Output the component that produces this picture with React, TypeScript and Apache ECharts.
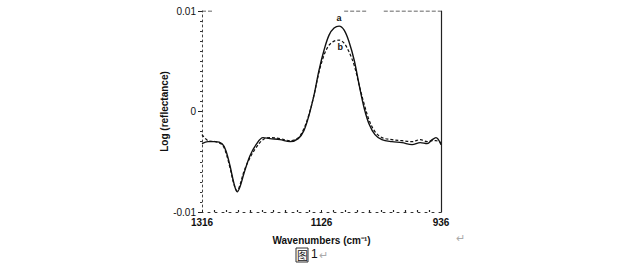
import React, { useEffect, useRef } from "react";
import * as echarts from "echarts";

const wavenumbers = [1316, 1306.5, 1295, 1284, 1278, 1271.5, 1265, 1260, 1255.6, 1249, 1239.7, 1230, 1219, 1208, 1192, 1176, 1163, 1154, 1146, 1138, 1130, 1122, 1114, 1106, 1098, 1090, 1082, 1074, 1066, 1058, 1050, 1041, 1030, 1014, 998, 982, 969, 958, 950, 944, 936];
const seriesA = [-0.0032, -0.003, -0.003, -0.0032, -0.0039, -0.0054, -0.0072, -0.008, -0.0075, -0.0061, -0.0044, -0.0033, -0.0026, -0.0027, -0.0028, -0.003, -0.0027, -0.0019, -0.0004, 0.0016, 0.0041, 0.0061, 0.0076, 0.0083, 0.0085, 0.0081, 0.0069, 0.0051, 0.0026, 0.0003, -0.0013, -0.0023, -0.0028, -0.003, -0.0031, -0.0033, -0.0031, -0.0032, -0.0028, -0.0026, -0.0033];
const seriesB = [-0.0023, -0.0029, -0.003, -0.0033, -0.0041, -0.0056, -0.0073, -0.0079, -0.0073, -0.0059, -0.0046, -0.0036, -0.0028, -0.0026, -0.0027, -0.0029, -0.0026, -0.0017, -0.0003, 0.0016, 0.0039, 0.0056, 0.0066, 0.007, 0.0071, 0.0068, 0.0059, 0.0046, 0.0026, 0.0007, -0.0009, -0.002, -0.0026, -0.0028, -0.0029, -0.003, -0.0028, -0.003, -0.0029, -0.0029, -0.0031];
const xTickLabels = ["936", "1126", "1316"];
const yTickLabels: Record<string, string> = { "-0.01": "-0.01", "0": "0", "0.01": "0.01" };
const topBorder: (number | null)[][] = [[1316, 0.01], [1300, 0.01], [1299, null], [1090, 0.01], [1052, 0.01], [1051, null], [1027, 0.01], [936, 0.01]];

export default function App() {
  const ref = useRef<HTMLDivElement>(null);
  useEffect(() => {
    const chart = echarts.init(ref.current!, undefined, { renderer: "svg" });
    const font = "Liberation Sans, Arial, sans-serif";
    chart.setOption({
      animation: false,
      backgroundColor: "#ffffff",
      grid: { left: 202, right: 183, top: 11, bottom: 57 },
      xAxis: {
        type: "value",
        inverse: true,
        min: 936,
        max: 1316,
        interval: 190,
        name: "Wavenumbers (cm⁻¹)",
        nameLocation: "middle",
        nameGap: 23,
        nameTextStyle: { fontFamily: font, fontSize: 10, color: "#111", fontWeight: "bold" },
        axisLine: { onZero: false, lineStyle: { color: "#333", type: [2, 5], width: 1 } },
        axisTick: { show: true, inside: true, length: 2, lineStyle: { color: "#222" } },
        minorTick: { show: true, splitNumber: 10, length: 2, lineStyle: { color: "#222", width: 1.2 } },
        splitLine: { show: false },
        axisLabel: {
          fontFamily: font, fontSize: 10, color: "#111", fontWeight: "bold", margin: 5,
          formatter: (v: number) => xTickLabels.find((t) => Number(t) === Math.round(v)) || "",
        },
      },
      yAxis: [
        {
          type: "value",
          min: -0.01,
          max: 0.01,
          interval: 0.01,
          name: "Log (reflectance)",
          nameLocation: "middle",
          nameGap: 32,
          nameTextStyle: { fontFamily: font, fontSize: 10, color: "#111", fontWeight: "bold" },
          axisLine: { show: true, onZero: false, lineStyle: { color: "#444", type: [2, 3], width: 1 } },
          axisTick: { show: true, length: 4, lineStyle: { color: "#222" } },
          minorTick: { show: true, splitNumber: 10, length: 2, lineStyle: { color: "#333" } },
          splitLine: { show: false },
          axisLabel: {
            fontFamily: font, fontSize: 10, color: "#111", margin: 6,
            formatter: (v: number) => yTickLabels[String(Math.round(v * 100) / 100)] ?? "",
          },
        },
        {
          type: "value",
          min: -0.01,
          max: 0.01,
          position: "right",
          axisLine: { show: true, onZero: false, lineStyle: { color: "#222", width: 1.2 } },
          axisTick: { show: false },
          axisLabel: { show: false },
          splitLine: { show: false },
        },
      ],
      series: [
        {
          type: "line",
          data: wavenumbers.map((w, i) => [w, seriesA[i]]),
          smooth: 0.35,
          symbol: "none",
          lineStyle: { color: "#111", width: 1.4 },
          markPoint: {
            symbol: "circle", symbolSize: 0,
            data: [{ coord: [1098, 0.0085], label: { show: true, formatter: "a", offset: [0, -8], fontFamily: font, fontSize: 9, fontWeight: "bold", color: "#111" } }],
          },
        },
        {
          type: "line",
          data: wavenumbers.map((w, i) => [w, seriesB[i]]),
          smooth: 0.35,
          symbol: "none",
          lineStyle: { color: "#111", width: 1.2, type: [3, 2] },
          markPoint: {
            symbol: "circle", symbolSize: 0,
            data: [{ coord: [1096, 0.0071], label: { show: true, formatter: "b", offset: [0, 7], fontFamily: font, fontSize: 9, fontWeight: "bold", color: "#111" } }],
          },
        },
        {
          type: "line",
          data: topBorder,
          connectNulls: false,
          symbol: "none",
          silent: true,
          lineStyle: { color: "#333", width: 1, type: [4, 2] },
        },
      ],
      graphic: [
        { type: "text", left: 456, top: 232, style: { text: "↵", fontSize: 11, fill: "#aaa", fontFamily: font } },
        { type: "rect", shape: { x: 296, y: 248, width: 12, height: 14 }, style: { fill: "none", stroke: "#333", lineWidth: 1 } },
        { type: "text", left: 297, top: 249, style: { text: "图", fontSize: 11, fill: "#111", fontFamily: "Noto Sans CJK SC" } },
        { type: "text", left: 311, top: 248, style: { text: "1", fontSize: 12, fill: "#111", fontFamily: font } },
        { type: "text", left: 319, top: 249, style: { text: "↵", fontSize: 11, fill: "#aaa", fontFamily: font } },
      ],
    });
    return () => chart.dispose();
  }, []);
  return <div ref={ref} style={{ width: 624, height: 269, position: "absolute", left: 0, top: 0 }} />;
}
